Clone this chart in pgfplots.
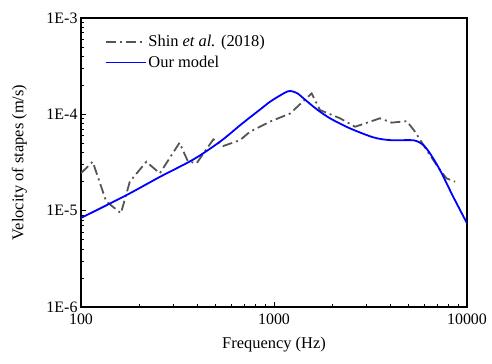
\documentclass[border=0pt]{standalone}
\usepackage{fontspec}
\setmainfont{Liberation Serif}
\usepackage{pgfplots}
\pgfplotsset{compat=1.18}
\usetikzlibrary{calc}

\pgfplotstableread{
f v
100 2.45e-5
115 3.22e-5
135 1.25e-5
161 9.4e-6
179 2.0e-5
218 3.22e-5
256 2.44e-5
324 5.07e-5
358 3.25e-5
397 3.1e-5
485 5.5e-5
546 4.69e-5
667 5.4e-5
751 6.6e-5
953 8.4e-5
1211 1.02e-4
1567 1.65e-4
1729 1.11e-4
2198 9.1e-5
2630 7.43e-5
3540 9.1e-5
4075 8.2e-5
4875 8.5e-5
5380 6.6e-5
6180 4.25e-5
7245 2.64e-5
7850 2.16e-5
8670 2.0e-5
}\shin

\pgfplotstableread{
f v
100 8.4e-6
172 1.45e-5
257 2.25e-5
382 3.4e-5
525 5.2e-5
667 7.7e-5
751 9.3e-5
846 1.12e-4
953 1.35e-4
1075 1.57e-4
1186 1.74e-4
1260 1.72e-4
1336 1.63e-4
1419 1.47e-4
1664 1.13e-4
1950 9.1e-5
2477 7.15e-5
3273 5.77e-5
3990 5.4e-5
5070 5.4e-5
5480 5.28e-5
5940 4.8e-5
6430 3.93e-5
7245 2.64e-5
8490 1.39e-5
10000 7.4e-6
}\model

\begin{document}
\begin{tikzpicture}
\begin{loglogaxis}[
  scale only axis, width=386bp, height=289bp,
  xmin=100, xmax=10000, ymin=1e-6, ymax=1e-3,
  xtick={100,1000,10000}, xticklabels={100,1000,10000},
  ytick={1e-6,1e-5,1e-4,1e-3}, yticklabels={1E-6,1E-5,1E-4,1E-3},
  tick align=inside, xtick pos=left, ytick pos=left,
  major tick length=5bp, minor tick length=3bp,
  every tick/.style={black, line width=1bp},
  axis line style={line width=1.5bp},
  ticklabel style={font=\fontsize{16}{19}\selectfont},
  xticklabel style={yshift=-3bp},
  xlabel={Frequency (Hz)}, ylabel={Velocity of stapes (m/s)},
  label style={font=\fontsize{16.5}{19}\selectfont},
  xlabel style={at={(axis description cs:0.5,-0.13)}, anchor=center},
  ylabel style={at={(axis description cs:-0.16,0.5)}, anchor=center},
  legend style={at={(axis description cs:0.053,0.955)}, anchor=north west,
    draw=none, fill=none, font=\fontsize{16.5}{19}\selectfont, row sep=4bp},
  legend cell align=left,
  legend image code/.code={\draw[#1] (0bp,0bp) -- (40bp,0bp);},
]
\addplot[color={rgb,255:red,85;green,85;blue,85}, line width=1.8bp,
  dash pattern=on 10bp off 4bp on 2bp off 4bp] table[x=f,y=v] {\shin};
\addlegendentry{Shin \textit{et al.} (2018)}
\addplot[color={rgb,255:red,0;green,0;blue,255}, line width=1.8bp, smooth] table[x=f,y=v] {\model};
\addlegendentry{Our model}
\coordinate (bl) at (rel axis cs:0,0);
\coordinate (tr) at (rel axis cs:1,1);
\end{loglogaxis}
\pgfresetboundingbox
\path[use as bounding box] ($(bl)+(-81bp,-57bp)$) rectangle ($(tr)+(25bp,18bp)$);
\end{tikzpicture}
\end{document}
